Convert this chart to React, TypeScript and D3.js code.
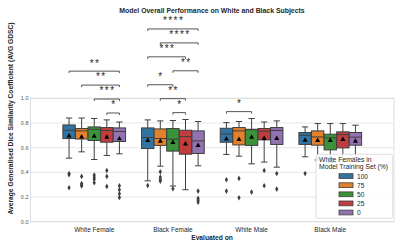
import React from 'react';
import * as d3 from 'd3';

// evaluation groups on the x axis
const categories = ['White Female', 'Black Female', 'White Male', 'Black Male'];
// hue: share of white females in the training set (%)
const trainingShares = ['100', '75', '50', '25', '0'];
const hueColors = ['#3274a1', '#e1812c', '#3a923a', '#c03d3e', '#9372b2'];

// box statistics, one row per category, one value per training share
const whiskerHigh = [
  [0.84, 0.84, 0.836, 0.825, 0.808],
  [0.825, 0.817, 0.82, 0.828, 0.812],
  [0.803, 0.812, 0.836, 0.808, 0.817],
  [0.768, 0.795, 0.795, 0.795, 0.782],
];
const upperQuartile = [
  [0.784, 0.755, 0.768, 0.763, 0.76],
  [0.76, 0.752, 0.755, 0.741, 0.736],
  [0.757, 0.763, 0.749, 0.755, 0.763],
  [0.723, 0.736, 0.709, 0.728, 0.723],
];
const medians = [
  [0.741, 0.736, 0.749, 0.739, 0.731],
  [0.682, 0.674, 0.669, 0.69, 0.655],
  [0.711, 0.736, 0.745, 0.733, 0.739],
  [0.701, 0.687, 0.68, 0.706, 0.685],
];
const lowerQuartile = [
  [0.674, 0.67, 0.658, 0.644, 0.65],
  [0.593, 0.618, 0.572, 0.547, 0.553],
  [0.644, 0.622, 0.618, 0.663, 0.626],
  [0.626, 0.62, 0.582, 0.598, 0.62],
];
const whiskerLow = [
  [0.515, 0.566, 0.504, 0.537, 0.55],
  [0.331, 0.45, 0.289, 0.259, 0.453],
  [0.545, 0.531, 0.469, 0.483, 0.442],
  [0.526, 0.5, 0.48, 0.49, 0.52],
];
const means = [
  [0.695, 0.687, 0.693, 0.685, 0.671],
  [0.658, 0.652, 0.642, 0.63, 0.618],
  [0.669, 0.666, 0.685, 0.674, 0.674],
  [0.66, 0.658, 0.658, 0.666, 0.652],
];
const outliers = [
  [[0.39, 0.38, 0.275], [0.367, 0.31, 0.297, 0.29], [0.378, 0.36, 0.343, 0.315], [0.415, 0.367, 0.286], [0.291, 0.259, 0.226, 0.197]],
  [[0.294], [0.404, 0.361, 0.34, 0.329], [0.267], [], [0.248, 0.189, 0.173, 0.157]],
  [[0.34, 0.248], [0.351, 0.194], [0.24], [0.415, 0.291], [0.391, 0.264]],
  [[0.391], [], [], [], []],
];

// significance annotations: [category index, from hue, to hue, label], bottom to top
const sigPairs: [number, number, number, string][] = [
  [0, 3, 4, '*'], [0, 2, 4, '***'], [0, 1, 4, '**'], [0, 0, 4, '**'],
  [1, 2, 3, '*'], [1, 1, 3, '**'], [1, 0, 2, '*'], [1, 2, 4, '**'],
  [1, 0, 3, '***'], [1, 1, 4, '****'], [1, 0, 4, '****'],
  [2, 0, 2, '*'],
];
const yTicks = [0, 0.2, 0.4, 0.6, 0.8, 1.0];

const W = 403;
const H = 249;
const font = '"Liberation Sans", Arial, sans-serif';
const boxLine = '#3f3f3f';
const textColor = '#262626';

export default function App() {
  const x = d3.scaleBand().domain(categories).range([30.5, 394]).paddingInner(0).paddingOuter(0.31);
  const step = x.bandwidth();
  const hue = d3.scaleBand().domain(trainingShares).range([-0.4 * step, 0.4 * step]);
  const bw = hue.bandwidth();
  const y = d3.scaleLinear().domain([0, 1]).range([221.7, 98.3]);

  const cx = (g: number, h: number) => (x(categories[g]) as number) + step / 2 + (hue(trainingShares[h]) as number) + bw / 2;

  const diamond = d3.symbol().type(d3.symbolDiamond).size(9)() as string;
  const triangle = d3.symbol().type(d3.symbolTriangle).size(11)() as string;

  // stack brackets per category
  const levelCount: Record<number, number> = {};
  const baseLine: Record<number, number> = {};
  const brackets = sigPairs.map(([g, a, b, label]) => {
    const k = levelCount[g] ?? 0;
    levelCount[g] = k + 1;
    if (k === 0) baseLine[g] = d3.max(whiskerHigh[g].slice(a, b + 1)) as number + 0.056;
    return { g, a, b, label, v: baseLine[g] + k * 0.113 };
  });

  const legendX = 316;
  const legendY = 154.3;

  return (
    <svg width={W} height={H} style={{ position: 'absolute', left: 0, top: 0, background: '#fff' }} fontFamily={font}>
      <rect x={0} y={0} width={W} height={H} fill="#fff" />
      {/* grid */}
      {yTicks.map(t => (
        <g key={t}>
          <line x1={30.5} x2={394} y1={y(t)} y2={y(t)} stroke="#e3e3e3" strokeWidth={0.9} />
          <text x={28.5} y={y(t) + 2} fontSize={5.5} fill="#555" textAnchor="end">{t.toFixed(1)}</text>
        </g>
      ))}
      <rect x={30.5} y={y(1)} width={394 - 30.5} height={y(0) - y(1)} fill="none" stroke="#dcdcdc" strokeWidth={0.9} />

      {/* boxes */}
      {categories.map((c, g) => (
        <g key={c}>
          {trainingShares.map((s, h) => {
            const xc = cx(g, h);
            const half = (bw * 0.98) / 2;
            const cap = bw / 4;
            return (
              <g key={s}>
                <line x1={xc} x2={xc} y1={y(upperQuartile[g][h])} y2={y(whiskerHigh[g][h])} stroke={boxLine} strokeWidth={1} />
                <line x1={xc} x2={xc} y1={y(lowerQuartile[g][h])} y2={y(whiskerLow[g][h])} stroke={boxLine} strokeWidth={1} />
                <line x1={xc - cap} x2={xc + cap} y1={y(whiskerHigh[g][h])} y2={y(whiskerHigh[g][h])} stroke={boxLine} strokeWidth={1} />
                <line x1={xc - cap} x2={xc + cap} y1={y(whiskerLow[g][h])} y2={y(whiskerLow[g][h])} stroke={boxLine} strokeWidth={1} />
                <rect x={xc - half} y={y(upperQuartile[g][h])} width={half * 2}
                  height={y(lowerQuartile[g][h]) - y(upperQuartile[g][h])}
                  fill={hueColors[h]} stroke={boxLine} strokeWidth={1} />
                <line x1={xc - half} x2={xc + half} y1={y(medians[g][h])} y2={y(medians[g][h])} stroke={boxLine} strokeWidth={1} />
                <path d={triangle} transform={`translate(${xc},${y(means[g][h])})`} fill="#000" />
                {outliers[g][h].map((o, i) => (
                  <path key={i} d={diamond} transform={`translate(${xc},${y(o)})`} fill={boxLine} />
                ))}
              </g>
            );
          })}
          <text x={(x(c) as number) + step / 2} y={231.6} fontSize={6.5} fill={textColor} textAnchor="middle">{c}</text>
        </g>
      ))}

      {/* significance brackets */}
      {brackets.map((b, i) => {
        const x1 = cx(b.g, b.a);
        const x2 = cx(b.g, b.b);
        const yy = y(b.v);
        return (
          <g key={i}>
            <path d={`M${x1},${yy + 2}V${yy}H${x2}V${yy + 2}`} fill="none" stroke="#555" strokeWidth={1} />
            <text x={(x1 + x2) / 2 + 0.7} y={yy - 4.6} fontSize={10} letterSpacing={1.4} fill={textColor} textAnchor="middle">{b.label}</text>
          </g>
        );
      })}

      {/* titles */}
      <text x={212} y={12.5} fontSize={6.9} fontWeight="bold" fill={textColor} textAnchor="middle">
        Model Overall Performance on White and Black Subjects
      </text>
      <text x={212} y={240} fontSize={6.7} fontWeight="bold" fill={textColor} textAnchor="middle">Evaluated on</text>
      <text transform="translate(12.5,118.5) rotate(-90)" fontSize={6.7} fontWeight="bold" fill={textColor} textAnchor="middle">
        Average Generalised Dice Similarity Coefficient (AVG GDSC)
      </text>

      {/* legend */}
      <g>
        <rect x={legendX} y={legendY} width={76.7} height={64} rx={2} fill="#fff" fillOpacity={0.85} stroke="#d5d5d5" strokeWidth={0.8} />
        <text x={legendX + 3} y={legendY + 7.3} fontSize={6.8} fill={textColor}>White Females in</text>
        <text x={legendX + 3} y={legendY + 14.8} fontSize={6.8} fill={textColor}>Model Training Set (%)</text>
        {trainingShares.map((s, h) => {
          const yc = legendY + 21.8 + h * 9.1;
          return (
            <g key={s}>
              <rect x={legendX + 23} y={yc - 2.4} width={14} height={4.8} fill={hueColors[h]} stroke={boxLine} strokeWidth={0.8} />
              <text x={legendX + 41} y={yc + 2.4} fontSize={6.6} fill={textColor}>{s}</text>
            </g>
          );
        })}
      </g>
    </svg>
  );
}
